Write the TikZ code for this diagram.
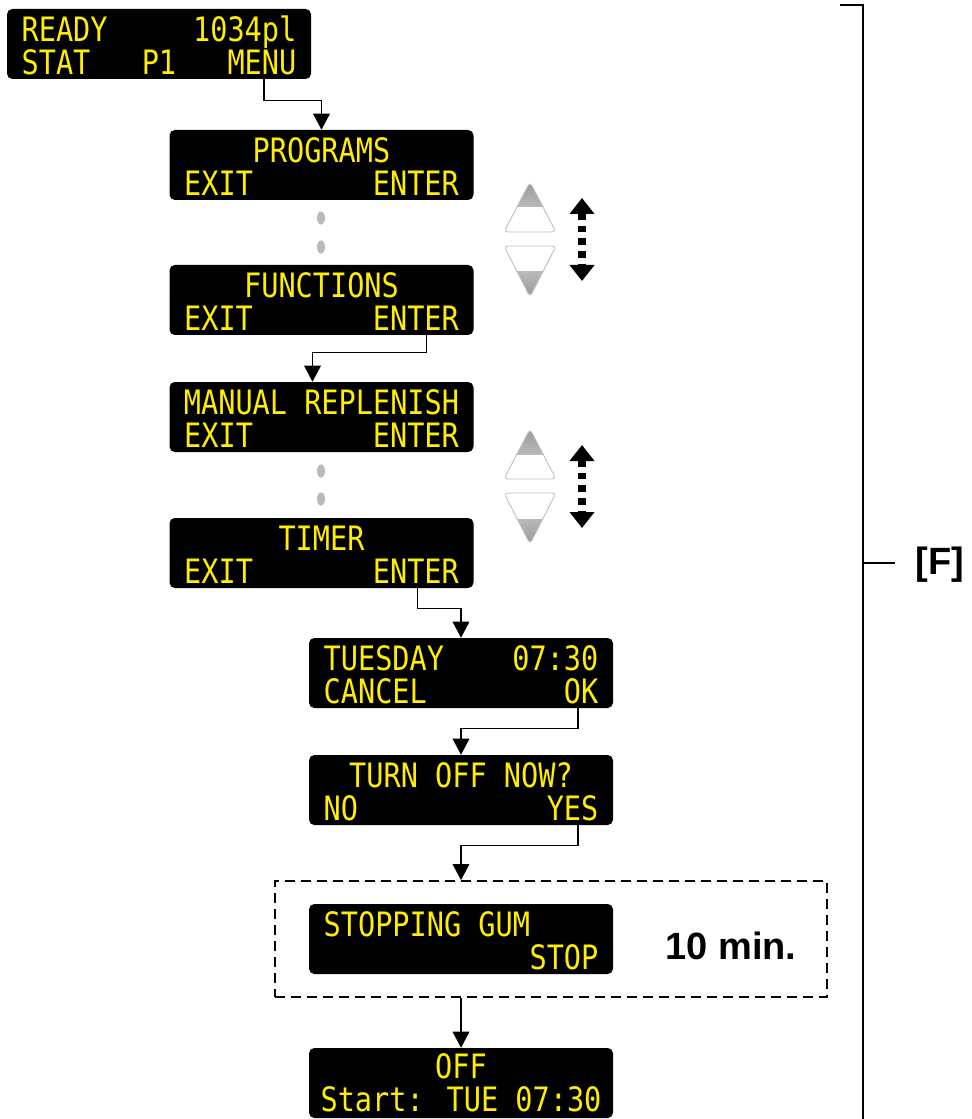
\documentclass[tikz,border=0pt]{standalone}
\usepackage{fontspec}
\usetikzlibrary{arrows.meta,calc}
\newfontfamily\lcdfamily[FakeStretch=0.85]{DejaVu Sans Mono}
\newfontfamily\tagfamily{Liberation Sans}
\newcommand\lcdfont{\lcdfamily\fontsize{25.2pt}{24.75pt}\selectfont}
\newcommand\tagfont{\tagfamily\bfseries\fontsize{28.5pt}{30pt}\selectfont}
\definecolor{lcdyellow}{RGB}{255,238,0}
\newlength\lcdw \setlength\lcdw{206pt}
% first row a little taller, so the text sits slightly low as on the panel
\newcommand\lcdrow[2][18.5pt]{\raisebox{0pt}[#1][0pt]{\makebox[\lcdw]{#2}}}
\newcommand\lcdtext[3][21.5pt]{\lcdrow[#1]{#2}\\\lcdrow{#3}}

\begin{document}
\begin{tikzpicture}[x=0.75pt, y=-0.75pt,
  lcd/.style={fill=black, rounded corners=4pt, minimum width=228pt, minimum height=52.5pt,
    inner sep=0pt, text=lcdyellow, align=center, font=\lcdfont},
  flow/.style={line width=0.9pt, -{Triangle[length=12pt,width=12.5pt]}},
  waitbox/.style={draw, line width=1.3pt, dash pattern=on 7.5pt off 4.5pt,
    minimum width=414pt, minimum height=87pt, inner sep=0pt},
  tag/.style={font=\tagfont, inner sep=0pt},
  keyline/.style={draw=gray!50, line width=0.7pt, rounded corners=3pt},
  updown/.style={line width=6pt, dash pattern=on 5pt off 4.5pt,
    {Triangle[length=12pt,width=18pt]}-{Triangle[length=12pt,width=18pt]}}]
\useasboundingbox (0,0) rectangle (971,1119);

% displays
\node[lcd] (ready)  at (159,44)    {\lcdtext{READY\hfill 1034pl}{STAT\hfill P1\hfill MENU}};
\node[lcd] (prog)   at (321.5,165) {\lcdtext{PROGRAMS}{EXIT\hfill ENTER}};
\node[lcd] (func)   at (321.5,300) {\lcdtext{FUNCTIONS}{EXIT\hfill ENTER}};
\node[lcd] (manual) at (321.5,417) {\lcdtext{MANUAL REPLENISH}{EXIT\hfill ENTER}};
\node[lcd] (timer)  at (321.5,553) {\lcdtext{TIMER}{EXIT\hfill ENTER}};
\node[lcd] (tues)   at (461,673)   {\lcdtext{TUESDAY\hfill 07:30}{CANCEL\hfill OK}};
\node[lcd] (turn)   at (461,790)   {\lcdtext{TURN OFF NOW?}{NO\hfill YES}};
\node[waitbox] (stopgrp) at (551,939) {};
\node[lcd] (stop)   at (461,939)   {\lcdtext{STOPPING GUM\hfill}{\hfill STOP}};
\node[tag] (mins)   at (731,946)   {10 min.};
\node[lcd] (off)    at (461,1083)  {\lcdtext[18.5pt]{OFF}{Start: TUE 07:30}};

% scroll dots
\foreach \dy in {218,247,471,499} \fill[gray!55] (321,\dy) ellipse (3pt and 4.9pt);

% up/down keys
\foreach \by in {182,429}{
  \begin{scope}
    \clip[rounded corners=3pt] (530,\by) -- (556,\by+50) -- (504,\by+50) -- cycle;
    \shade[top color=gray!80, bottom color=gray!55] (500,\by) rectangle (560,\by+25);
  \end{scope}
  \path[keyline] (530,\by) -- (556,\by+50) -- (504,\by+50) -- cycle;
  \begin{scope}
    \clip[rounded corners=3pt] (504,\by+64) -- (556,\by+64) -- (530,\by+115) -- cycle;
    \shade[top color=gray!55, bottom color=gray!80] (500,\by+90) rectangle (560,\by+115);
  \end{scope}
  \path[keyline] (504,\by+64) -- (556,\by+64) -- (530,\by+115) -- cycle;
  \draw[updown] (582,\by+16) -- (582,\by+99);
}

% connectors
\draw[flow] ($(ready.south)+(105,0)$) -- ++(0,21) -| (prog.north);
\draw[flow] ($(func.south)+(105,0)$) -- ++(0,17) -| ($(manual.north)+(-9,0)$);
\draw[flow] ($(timer.south)+(96,0)$) -- ++(0,20) -| (tues.north);
\draw[flow] ($(tues.south)+(117,0)$) -- ++(0,20) -| (turn.north);
\draw[flow] ($(turn.south)+(117,0)$) -- ++(0,20) -| (stop.north |- stopgrp.north);
\draw[flow] (stop.south |- stopgrp.south) -- (off.north);

% bracket
\draw[line width=1pt] (840,5) -- (863,5) -- (863,1119);
\draw[line width=0.8pt] (863,563) -- (895,563);
\node[tag] (flabel) at (940,565) {[F]};
\end{tikzpicture}
\end{document}
